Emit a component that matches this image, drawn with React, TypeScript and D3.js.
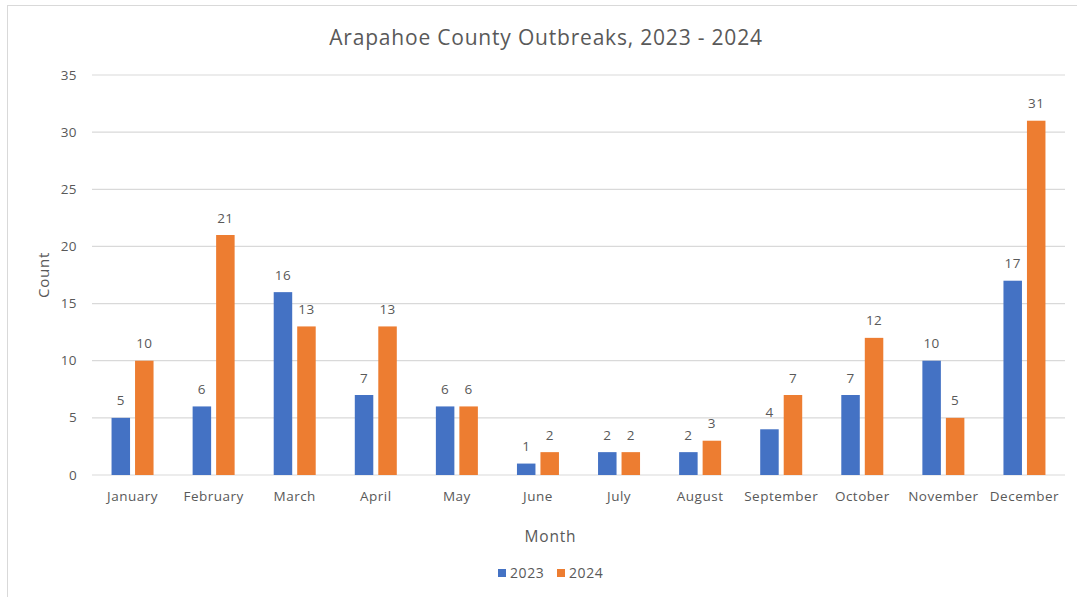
import React from "react";
import * as d3 from "d3";

const months = ["January","February","March","April","May","June","July","August","September","October","November","December"];
const series2023 = [5, 6, 16, 7, 6, 1, 2, 2, 4, 7, 10, 17];
const series2024 = [10, 21, 13, 13, 6, 2, 2, 3, 7, 12, 5, 31];
const seriesNames = ["2023", "2024"];
const yTicks = [0, 5, 10, 15, 20, 25, 30, 35];

const W = 1077, H = 597;
const FONT = "'Open Sans', 'Noto Sans', sans-serif";
const TEXT = "#595959";
const COLORS = ["#4472C4", "#ED7D31"];

export default function App() {
  const x = d3.scaleBand<string>().domain(months).range([92, 1065]);
  const y = d3.scaleLinear().domain([0, 35]).range([475, 75]);
  const barW = 18.5, gap = 5;
  const data = [series2023, series2024];
  return (
    <svg width={W} height={H} style={{ position: "absolute", left: 0, top: 0, background: "#fff" }} fontFamily={FONT}>
      <rect x={7.5} y={5.5} width={1200} height={700} fill="#fff" stroke="#d9d9d9" strokeWidth={1} />
      <text x={546} y={45} textAnchor="middle" fontSize={21} letterSpacing={0.8} fill={TEXT}>Arapahoe County Outbreaks, 2023 - 2024</text>
      {yTicks.map(t => (
        <g key={t}>
          <line x1={92} x2={1065} y1={y(t)} y2={y(t)} stroke="#d9d9d9" strokeWidth={1.2} />
          <text x={77} y={y(t) + 4.5} textAnchor="end" fontSize={13.5} letterSpacing={0.4} fill={TEXT}>{t}</text>
        </g>
      ))}
      {data.map((s, si) => s.map((v, i) => {
        const c = (x(months[i]) as number) + x.bandwidth() / 2;
        const bx = si === 0 ? c - gap / 2 - barW : c + gap / 2;
        return (
          <g key={si + "-" + i}>
            <rect x={bx} y={y(v)} width={barW} height={y(0) - y(v)} fill={COLORS[si]} />
            <text x={bx + barW / 2} y={y(v) - 12.5} textAnchor="middle" fontSize={13.5} letterSpacing={0.4} fill={TEXT}>{v}</text>
          </g>
        );
      }))}
      {months.map(m => (
        <text key={m} x={(x(m) as number) + x.bandwidth() / 2} y={501} textAnchor="middle" fontSize={13.5} letterSpacing={0.5} fill={TEXT}>{m}</text>
      ))}
      <text transform="translate(48.5,275) rotate(-90)" textAnchor="middle" fontSize={15} letterSpacing={0.8} fill={TEXT}>Count</text>
      <text x={550.5} y={542} textAnchor="middle" fontSize={15.5} letterSpacing={0.8} fill={TEXT}>Month</text>
      {seriesNames.map((n, i) => (
        <g key={n} transform={`translate(${498 + i * 59},0)`}>
          <rect x={0} y={569} width={8} height={8} fill={COLORS[i]} />
          <text x={12} y={578} fontSize={14} letterSpacing={0.6} fill={TEXT}>{n}</text>
        </g>
      ))}
    </svg>
  );
}
